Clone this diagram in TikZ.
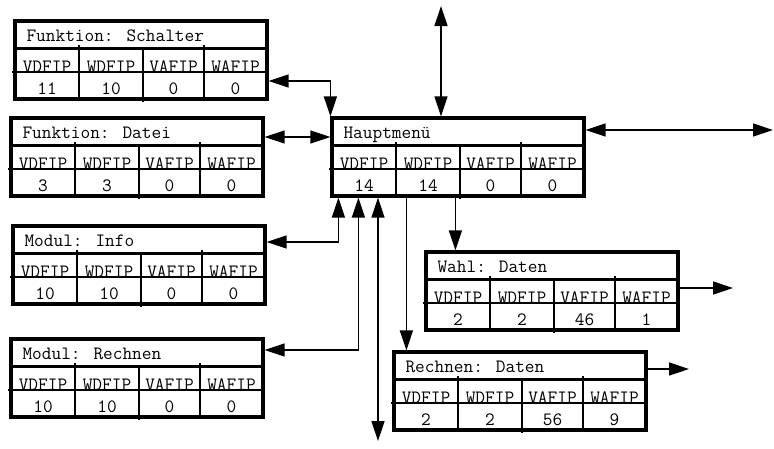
\documentclass[tikz,border=0pt]{standalone}
\usepackage{fontspec}
\usetikzlibrary{arrows.meta, calc}

% table box: name, top left corner, title, four values
\newcommand{\fipbox}[7]{%
\begin{scope}[shift={(#2)}]
\node[fipframe] (#1) at (126,39) {};
\draw[line width=3pt] (0,27) -- (252,27);
\draw[line width=2pt] (-3,51) -- (252,51);
\draw[thinrule] (64,24) -- (64,78);
\draw[line width=2.6pt] (128,27) -- (128,81);
\draw[thinrule] (189,24) -- (189,78);
\node[anchor=base west] at (8,20) {#3};
\foreach \lab/\cx in {VDFIP/32, WDFIP/96, VAFIP/158.5, WAFIP/220.5}
	\node[anchor=base] at (\cx,51.5) {\lab};
\node[anchor=base] at (32,73) {#4};
\node[anchor=base] at (96,73) {#5};
\node[anchor=base] at (158.5,73) {#6};
\node[anchor=base] at (220.5,73) {#7};
\end{scope}}

\begin{document}
\begin{tikzpicture}[x=1pt, y=-1pt, >={Triangle[length=20pt,width=13pt]},
	font=\ttfamily\fontsize{18.8}{20}\selectfont,
	fipframe/.style={draw, line width=3.2pt, minimum width=252pt, minimum height=78pt, inner sep=0pt},
	thinrule/.style={line width=1.3pt},
	link/.style={line width=1.4pt, ->},
	dlink/.style={line width=1.4pt, <->}]
\useasboundingbox (0,0) rectangle (774,448);

%========================
% boxes
%========================
\fipbox{schalter}{15,21}{Funktion: Schalter}{11}{10}{0}{0}
\fipbox{datei}{11,118}{Funktion: Datei}{3}{3}{0}{0}
\fipbox{info}{13,226}{Modul: Info}{10}{10}{0}{0}
\fipbox{rechnen}{11,339}{Modul: Rechnen}{10}{10}{0}{0}
\fipbox{haupt}{332,118}{Hauptmenü}{14}{14}{0}{0}
\fipbox{wahl}{426,252}{Wahl: Daten}{2}{2}{46}{1}
\fipbox{rdaten}{394,352}{Rechnen: Daten}{2}{2}{56}{9}

% free ends
\coordinate (topend) at (441,6);
\coordinate (rightend) at (773,130);
\coordinate (bottomend) at (378,441);
\coordinate (wahlend) at (733,288);
\coordinate (rdend) at (689,369);
\coordinate (wahlin) at ([xshift=31pt]wahl.north west);
\coordinate (rdin) at ([xshift=14pt]rdaten.north west);

%========================
% connectors
%========================
\draw[dlink] ([yshift=-21pt]schalter.east) -| (haupt.north west);
\draw[dlink] ([yshift=20pt]datei.east) -- ([yshift=20pt]haupt.west);
\draw[dlink] (topend) -- (topend |- haupt.north);
\draw[dlink] ([yshift=27pt]haupt.east) -- (rightend);
\draw[dlink] ([yshift=23pt]info.east) -| ([xshift=8pt]haupt.south west);
\draw[dlink] ([yshift=28pt]rechnen.east) -| ([xshift=28pt]haupt.south west);
\draw[dlink] (bottomend |- haupt.south) -- (bottomend);
\draw[link] (wahlin |- haupt.south) -- (wahlin);
\draw[link] (rdin |- haupt.south) -- (rdin);
\draw[link] ([yshift=3pt]wahl.east) -- (wahlend);
\draw[link] ([yshift=22pt]rdaten.east) -- (rdend);
\end{tikzpicture}
\end{document}
